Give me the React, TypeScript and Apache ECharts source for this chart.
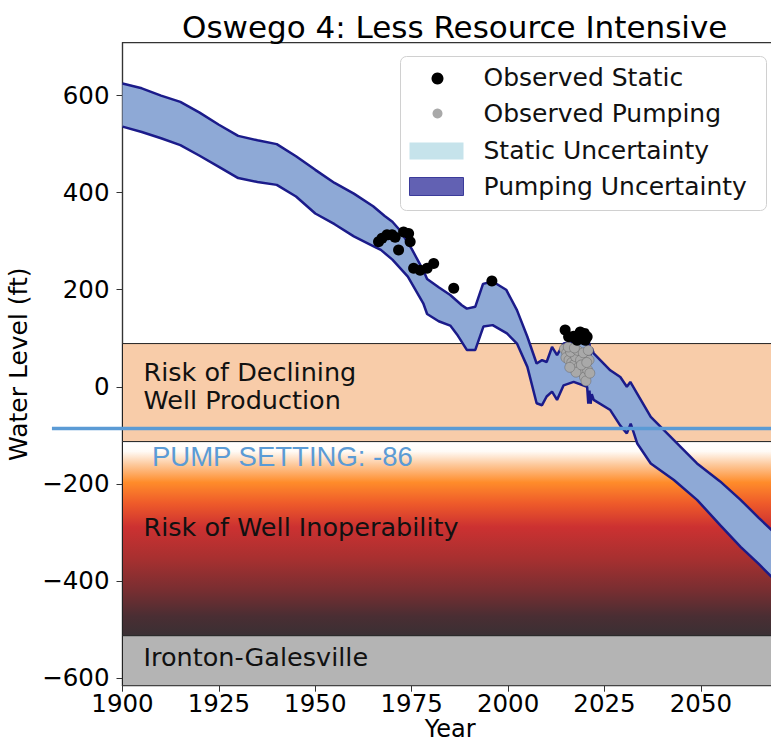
import React, { useEffect, useRef } from "react";
import * as echarts from "echarts";

// ---------- data ----------
const chartTitle = "Oswego 4: Less Resource Intensive";
const xAxisName = "Year";
const yAxisName = "Water Level (ft)";
const xTicks = [1900, 1925, 1950, 1975, 2000, 2025, 2050];
const yTicks = [-600, -400, -200, 0, 200, 400, 600];
const xMin = 1900;
const xMax = 2070;
const yMin = -616;
const yMax = 709;

// Pumping uncertainty band edges [year, water level ft]
const upperEdge: [number, number][] = [
  [1900, 625], [1905, 615], [1910, 600], [1915, 587], [1920, 565], [1925, 540],
  [1930, 517], [1935, 508], [1940, 500], [1945, 475], [1950, 447], [1955, 420],
  [1960, 398], [1965, 372], [1968, 352], [1970, 340], [1972, 322], [1975, 284],
  [1978, 240], [1979, 222], [1982, 205], [1985, 189], [1988, 168], [1989.3, 161],
  [1991.5, 165], [1993.5, 212], [1996, 217], [1999.5, 200], [2002.3, 158],
  [2005, 103], [2007.4, 48], [2008.8, 55], [2010, 51], [2011.4, 82], [2012.7, 65],
  [2014.4, 89], [2017, 93], [2020.5, 89], [2020.8, 62], [2021.1, 90], [2021.4, 65],
  [2021.7, 80], [2022.2, 69], [2026.5, 34], [2029.1, 20], [2030.8, 0], [2031.7, 10],
  [2033.4, -13], [2037, -62], [2043, -110], [2049, -158], [2055, -195],
  [2060.3, -233], [2065, -270], [2070, -308],
];
const lowerEdge: [number, number][] = [
  [1900, 536], [1905, 525], [1910, 512], [1915, 498], [1920, 476], [1925, 453],
  [1930, 430], [1935, 422], [1940, 416], [1945, 392], [1950, 357], [1955, 335],
  [1960, 310], [1965, 290], [1967, 282], [1970, 262], [1974, 227], [1978, 172],
  [1979, 150], [1982, 135], [1985, 126], [1987, 105], [1989.3, 76], [1991.5, 76],
  [1993.6, 124], [1996, 127], [1999.7, 110], [2002.3, 89], [2005, 41],
  [2007.4, -34], [2008.8, -38], [2010, -20], [2011.4, -10], [2012.7, -27],
  [2014.4, 3], [2017, 10], [2020.5, 0], [2020.8, -35], [2021.1, -8], [2021.4, -35],
  [2021.7, -15], [2022.2, -27], [2026.5, -48], [2029.1, -80], [2030.8, -96],
  [2031.8, -76], [2032.6, -95], [2033.5, -117], [2037, -158], [2043, -192],
  [2049, -233], [2055, -285], [2060.3, -330], [2065, -365], [2070, -405],
];

const observedStatic: [number, number][] = [
  [1966.4, 299], [1967.3, 306], [1968.6, 313], [1969.9, 313], [1970.7, 308],
  [1972.9, 319], [1974.2, 316], [1974.6, 299], [1971.6, 282], [1975.5, 244],
  [1977.2, 240], [1979, 244], [1980.7, 254], [1985.9, 203], [1995.8, 218],
  [2014.8, 117], [2017, 104], [2018.7, 113], [2019.8, 110], [2015.7, 103],
  [2020.5, 103], [2017.9, 96], [2017.4, 100], [2020, 96],
];

const observedPumping: [number, number][] = [
  [2014.6, 78], [2015.2, 70], [2015.0, 60], [2015.8, 55], [2016.5, 50],
  [2017.0, 45], [2017.5, 62], [2018.2, 40], [2018.8, 55], [2019.3, 30],
  [2019.8, 20], [2020.2, 12], [2020.6, 35], [2021.0, 55], [2021.2, 28],
  [2016.2, 72], [2018.0, 75], [2019.5, 70], [2020.8, 75], [2017.6, 30],
  [2016.0, 40], [2019.0, 45], [2020.4, 50], [2015.6, 82], [2017.2, 80],
];

const pumpSetting = -86;
const pumpLineStartYear = 1881.7;
const pumpLabel = "PUMP SETTING: -86";

const zoneLabels = ["Risk of Declining\nWell Production", "Risk of Well Inoperability", "Ironton-Galesville"];
const zoneTops = [89, -113, -513];
const zoneBottoms = [-113, -513, -616];

const legendNames = ["Observed Static", "Observed Pumping", "Static Uncertainty", "Pumping Uncertainty"];

// ---------- styles ----------
const FONT = "DejaVu Sans";
const bandFill = "#8EA9D6";
const edgeColor = "#1B1B8A";
const pumpColor = "#5B9BD5";

const inoperableGradient = () =>
  new echarts.graphic.LinearGradient(0, 0, 0, 1, [
    { offset: 0, color: "#FFFFFF" },
    { offset: 0.05, color: "#FFFBF7" },
    { offset: 0.12, color: "#FDC89A" },
    { offset: 0.21, color: "#FF8C2A" },
    { offset: 0.32, color: "#EE5A2A" },
    { offset: 0.44, color: "#CC3131" },
    { offset: 0.6, color: "#A83030" },
    { offset: 0.76, color: "#7A2E31" },
    { offset: 0.9, color: "#4A2E33" },
    { offset: 1, color: "#3A3034" },
  ]);

const zoneFills = () => ["#F8CCA9", inoperableGradient(), "#B4B4B4"];
const zoneLabelOffsets = [-7, -12, -4];

export default function App() {
  const ref = useRef<HTMLDivElement>(null);

  useEffect(() => {
    if (!ref.current) return;
    const chart = echarts.init(ref.current, undefined, { renderer: "svg" });
    const fills = zoneFills();

    const option: any = {
      animation: false,
      backgroundColor: "#FFFFFF",
      textStyle: { fontFamily: FONT },
      title: {
        text: chartTitle,
        left: 177,
        top: 6,
        textStyle: { fontFamily: FONT, fontSize: 31, fontWeight: "normal", color: "#000" },
      },
      grid: {
        left: 122.5,
        top: 42.7,
        right: -7,
        bottom: 56.3,
        outerBoundsMode: "none",
        containLabel: false,
        show: true,
        borderColor: "#333",
        borderWidth: 1.2,
        backgroundColor: "transparent",
      },
      xAxis: {
        type: "value",
        min: xMin,
        max: xMax,
        name: xAxisName,
        nameLocation: "middle",
        nameGap: 31,
        nameMoveOverlap: false,
        nameTextStyle: { fontFamily: FONT, fontSize: 24, lineHeight: 24, color: "#000" },
        axisLine: { show: true, onZero: false, lineStyle: { color: "#333", width: 1.2 } },
        axisTick: { show: true, inside: false, length: 6, lineStyle: { color: "#333" }, customValues: xTicks },
        axisLabel: {
          fontFamily: FONT,
          fontSize: 24.5,
          color: "#000",
          margin: 5,
          customValues: xTicks,
          formatter: (v: number) => String(v),
        },
        splitLine: { show: false },
      },
      yAxis: {
        type: "value",
        min: yMin,
        max: yMax,
        name: yAxisName,
        nameLocation: "middle",
        nameGap: 78,
        nameRotate: 90,
        nameTextStyle: { fontFamily: FONT, fontSize: 25, color: "#000" },
        axisLine: { show: true, onZero: false, lineStyle: { color: "#333", width: 1.2 } },
        axisTick: { show: true, inside: false, length: 6, lineStyle: { color: "#333" }, customValues: yTicks },
        axisLabel: {
          fontFamily: FONT,
          fontSize: 24.5,
          color: "#000",
          margin: 13,
          customValues: yTicks,
          formatter: (v: number) => (v < 0 ? "\u2212" + Math.abs(v) : String(v)),
        },
        splitLine: { show: false },
      },
      series: [
        {
          name: "zones",
          type: "custom",
          z: 1,
          clip: true,
          silent: true,
          data: zoneTops.map((t, i) => [i, t, zoneBottoms[i]]),
          renderItem: (params: any, api: any) => {
            const i = api.value(0);
            const p1 = api.coord([xMin, api.value(1)]);
            const p2 = api.coord([xMax, api.value(2)]);
            const lp = api.coord([xMin, (api.value(1) + api.value(2)) / 2]);
            return {
              type: "group",
              children: [
                {
                  type: "rect",
                  shape: { x: p1[0], y: p1[1], width: p2[0] - p1[0], height: p2[1] - p1[1] },
                  style: { fill: fills[i], stroke: "#222", lineWidth: 1 },
                },
                {
                  type: "text",
                  style: {
                    text: zoneLabels[i],
                    x: lp[0] + 21,
                    y: lp[1] + zoneLabelOffsets[i],
                    fill: "#111",
                    font: `25.5px '${FONT}'`,
                    verticalAlign: "middle",
                    align: "left",
                    lineHeight: 28,
                  },
                  z2: 5,
                },
              ],
            };
          },
        },
        {
          name: "Pumping Uncertainty",
          type: "custom",
          z: 3,
          clip: true,
          silent: true,
          data: [[xMin, 0]],
          renderItem: (params: any, api: any) => {
            const pts = [
              ...upperEdge.map((p) => api.coord(p)),
              ...lowerEdge.slice().reverse().map((p) => api.coord(p)),
            ];
            return { type: "polygon", shape: { points: pts }, style: { fill: bandFill } };
          },
        },
        {
          name: "upper",
          type: "line",
          z: 4,
          data: upperEdge,
          symbol: "none",
          lineStyle: { color: edgeColor, width: 2.5 },
          silent: true,
        },
        {
          name: "lower",
          type: "line",
          z: 4,
          data: lowerEdge,
          symbol: "none",
          lineStyle: { color: edgeColor, width: 2.5 },
          silent: true,
        },
        {
          name: "pump",
          type: "custom",
          z: 6,
          clip: false,
          silent: true,
          data: [[pumpLineStartYear, xMax, pumpSetting]],
          renderItem: (params: any, api: any) => {
            const a = api.coord([api.value(0), api.value(2)]);
            const b = api.coord([api.value(1), api.value(2)]);
            return {
              type: "line",
              shape: { x1: a[0], y1: a[1], x2: b[0], y2: b[1] },
              style: { stroke: pumpColor, lineWidth: 3.5 },
            };
          },
        },
        {
          name: "Observed Pumping",
          type: "scatter",
          z: 7,
          data: observedPumping,
          symbolSize: 10,
          itemStyle: { color: "#A9A9A9", borderColor: "#666", borderWidth: 0.5, opacity: 1 },
          silent: true,
        },
        {
          name: "Observed Static",
          type: "scatter",
          z: 8,
          data: observedStatic,
          symbolSize: 11,
          itemStyle: { color: "#000", opacity: 1 },
          silent: true,
        },
      ],
      graphic: [
        {
          type: "text",
          left: 152,
          top: 442,
          z: 100,
          style: { text: pumpLabel, fill: pumpColor, font: "27.5px 'Liberation Sans'" },
        },
        {
          type: "group",
          left: 400,
          top: 56,
          z: 100,
          children: [
            {
              type: "rect",
              shape: { x: 0, y: 0, width: 366, height: 154, r: 6 },
              style: { fill: "rgba(255,255,255,0.85)", stroke: "#D0D0D0", lineWidth: 1 },
            },
            { type: "circle", shape: { cx: 37, cy: 22, r: 6 }, style: { fill: "#000" } },
            { type: "circle", shape: { cx: 37, cy: 57, r: 5 }, style: { fill: "#A9A9A9" } },
            { type: "rect", shape: { x: 9, y: 86, width: 54, height: 17 }, style: { fill: "#C6E3EB" } },
            { type: "rect", shape: { x: 9, y: 121, width: 54, height: 18 }, style: { fill: "#6261B3", stroke: "#3B3B9A", lineWidth: 1 } },
            ...legendNames.map((n, i) => ({
              type: "text",
              style: {
                text: n,
                x: 83,
                y: [21, 57, 94, 130][i],
                fill: "#111",
                font: `25px '${FONT}'`,
                verticalAlign: "middle",
              },
            })),
          ],
        },
      ],
    };

    chart.setOption(option);
    return () => chart.dispose();
  }, []);

  return (
    <div
      ref={ref}
      style={{ position: "absolute", left: 0, top: 0, width: 771, height: 742, overflow: "hidden" }}
    />
  );
}
